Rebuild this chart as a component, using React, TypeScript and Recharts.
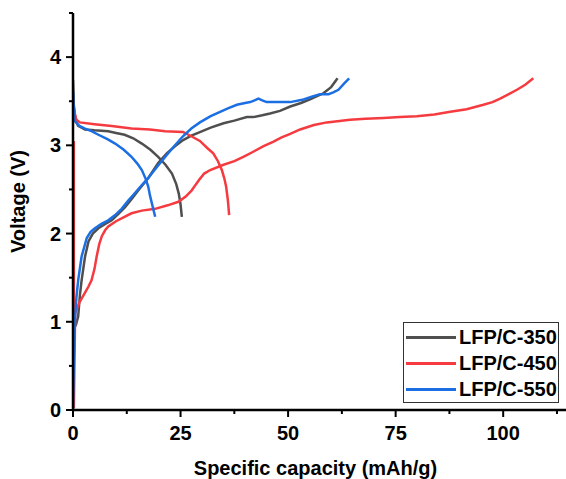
import React from 'react';
import { LineChart, Line, XAxis, YAxis } from 'recharts';

// capacity (mAh/g), voltage (V)
const c350Discharge = [
  [0, 3.74], [0.2, 3.45], [0.6, 3.28], [1.2, 3.22], [2.8, 3.18], [5, 3.17], [8.2, 3.16], [10, 3.14],
  [12, 3.12], [14, 3.08], [16, 3.02], [18, 2.95], [19.8, 2.87], [21.5, 2.78], [23, 2.68],
  [24, 2.56], [24.6, 2.45], [25, 2.33], [25.3, 2.19],
];
const c350Charge = [
  [0.6, 0.95], [1.2, 1.06], [1.6, 1.3], [2, 1.47], [2.8, 1.74], [3.6, 1.91], [4.6, 2.0], [5.9, 2.06],
  [7.5, 2.11], [9, 2.15], [10.5, 2.22], [12.1, 2.3], [13.6, 2.39], [15.2, 2.49], [17.5, 2.63],
  [19.8, 2.8], [21.8, 2.91], [23.7, 2.99], [25.6, 3.06], [27.5, 3.11], [29.5, 3.15], [32, 3.2],
  [35, 3.25], [37.5, 3.28], [40.4, 3.32], [41.9, 3.32], [44, 3.34], [45.8, 3.36], [48.1, 3.39],
  [50.5, 3.44], [53, 3.48], [55.1, 3.52], [58.2, 3.59], [60, 3.66], [61.5, 3.76],
];
const c450Discharge = [
  [0, 3.55], [0.3, 3.38], [0.8, 3.29], [1.6, 3.26], [5, 3.24], [9, 3.22], [13.6, 3.19], [17.9, 3.18],
  [21.4, 3.16], [25.6, 3.15], [27.6, 3.1], [29.5, 3.05], [31.2, 2.97], [32.6, 2.91], [33.7, 2.82],
  [34.6, 2.72], [35.2, 2.62], [35.6, 2.53], [36, 2.38], [36.3, 2.21],
];
const c450Charge = [
  [0.2, 3.05], [0.2, 0.02], [0.5, 1.1], [1.5, 1.22], [2.8, 1.33], [3.6, 1.4], [4.3, 1.47],
  [5, 1.6], [5.5, 1.74], [6.1, 1.88], [6.7, 1.97], [7.5, 2.04], [8.2, 2.08], [10, 2.14], [13.6, 2.23],
  [16, 2.26], [19.1, 2.28], [22, 2.32], [24.5, 2.36], [26.2, 2.42], [27.6, 2.49], [28.6, 2.56],
  [29.5, 2.62], [30.5, 2.68], [31.9, 2.72], [35, 2.78], [37.5, 2.82], [39.6, 2.87], [42, 2.93],
  [44.3, 2.99], [46.5, 3.04], [48.5, 3.09], [50.5, 3.13], [52.8, 3.18], [56, 3.23], [59, 3.26],
  [64.4, 3.29], [68, 3.3], [72.2, 3.31], [76, 3.32], [79.9, 3.33], [84, 3.35], [87.7, 3.38],
  [91.5, 3.41], [95.4, 3.46], [97.5, 3.49], [99.3, 3.53], [101.3, 3.58], [103.2, 3.63],
  [105.2, 3.69], [107, 3.76],
];
const c550Discharge = [
  [0, 3.61], [0.2, 3.4], [0.5, 3.27], [1.5, 3.22], [2.8, 3.19], [4.3, 3.16], [5.9, 3.12], [8, 3.07],
  [9.8, 3.02], [11.8, 2.95], [13.6, 2.87], [15, 2.79], [16, 2.72], [16.9, 2.62], [17.5, 2.53],
  [17.9, 2.43], [18.5, 2.31], [19.1, 2.19],
];
const c550Charge = [
  [0, 0.02], [0.2, 0.6], [0.5, 1.06], [0.8, 1.28], [1.2, 1.47], [2, 1.74], [3.2, 1.95], [4.1, 2.02],
  [5.1, 2.06], [6.6, 2.11], [8.2, 2.15], [9.8, 2.21], [11.3, 2.28], [12.8, 2.37], [14.4, 2.46],
  [16, 2.55], [17.5, 2.63], [19.6, 2.76], [21.6, 2.88], [23.5, 2.99], [25.5, 3.1], [27.5, 3.19],
  [29.5, 3.26], [32, 3.33], [34.2, 3.38], [36, 3.42], [38.1, 3.46], [40, 3.48], [41.2, 3.49],
  [42.2, 3.51], [43.1, 3.53], [44, 3.51], [45, 3.49], [48.1, 3.49], [50.5, 3.49], [53.6, 3.52],
  [55.5, 3.55], [57.4, 3.58], [59.4, 3.58], [60.5, 3.6], [61.7, 3.63], [63, 3.7], [64.2, 3.76],
];

const seriesNames = ['LFP/C-350', 'LFP/C-450', 'LFP/C-550'];
const seriesColors = ['#4f4f4f', '#f53b3f', '#1c6fe3'];
const seriesCurves = [
  [c350Discharge, c350Charge],
  [c450Discharge, c450Charge],
  [c550Discharge, c550Charge],
];

// every 12.5 / 0.5 a tick, labels only on the majors
const xTicks = [0, 12.5, 25, 37.5, 50, 62.5, 75, 87.5, 100, 112.5];
const yTicks = [0, 0.5, 1, 1.5, 2, 2.5, 3, 3.5, 4, 4.5];
const xDomain = [0, 114.6];
const yDomain = [0, 4.5];

const font = '"Liberation Sans", Arial, sans-serif';
const tickLine = { stroke: '#000', strokeWidth: 2 };

const toPoints = (arr: number[][]) => arr.map(([c, v]) => ({ c, v }));

// built-in tick line is the short (minor) one, majors get 3px more
const YTick = (props: any) => {
  const { x, y, payload } = props;
  if (!Number.isInteger(payload.value)) return <g />;
  return (
    <g>
      <line x1={x} x2={x - 3} y1={y} y2={y} stroke="#000" strokeWidth={2} />
      <text x={x - 8} y={y} textAnchor="end" dominantBaseline="central"
        fontFamily={font} fontWeight="bold" fontSize={20} fill="#000">
        {payload.value}
      </text>
    </g>
  );
};

const XTick = (props: any) => {
  const { x, y, payload } = props;
  if (payload.value % 25 !== 0) return <g />;
  return (
    <g>
      <line x1={x} x2={x} y1={y} y2={y + 3} stroke="#000" strokeWidth={2} />
      <text x={x} y={y + 19} textAnchor="middle" dominantBaseline="central"
        fontFamily={font} fontWeight="bold" fontSize={20} fill="#000">
        {payload.value}
      </text>
    </g>
  );
};

const YLabel = (props: any) => {
  const { viewBox } = props;
  const cx = viewBox.x + 18;
  const cy = viewBox.y + viewBox.height / 2 - 10;
  return (
    <text x={cx} y={cy} transform={`rotate(-90 ${cx} ${cy})`} textAnchor="middle" dominantBaseline="central"
      fontFamily={font} fontWeight="bold" fontSize={20} fill="#000">
      Voltage (V)
    </text>
  );
};

const XLabel = (props: any) => {
  const { viewBox } = props;
  const cx = viewBox.x + viewBox.width / 2 - 4;
  const cy = viewBox.y + 58;
  return (
    <text x={cx} y={cy} textAnchor="middle" dominantBaseline="central"
      fontFamily={font} fontWeight="bold" fontSize={20} fill="#000">
      Specific capacity (mAh/g)
    </text>
  );
};

const App: React.FC = () => {
  return (
    <div style={{ position: 'absolute', left: 0, top: 0, width: 566, height: 479, background: '#fff' }}>
      <LineChart width={566} height={479} margin={{ top: 13, right: 0, bottom: 0, left: 0 }}>
        <XAxis
          xAxisId="top"
          orientation="top"
          type="number"
          domain={xDomain}
          height={0}
          tick={false}
          tickLine={false}
          axisLine={{ stroke: '#000', strokeWidth: 1.5 }}
        />
        <XAxis
          type="number"
          dataKey="c"
          domain={xDomain}
          ticks={xTicks}
          interval={0}
          allowDataOverflow
          height={69}
          tickSize={4}
          tickMargin={0}
          tickLine={tickLine}
          tick={<XTick />}
          axisLine={{ stroke: '#000', strokeWidth: 2.5 }}
          label={<XLabel />}
        />
        <YAxis
          type="number"
          dataKey="v"
          domain={yDomain}
          ticks={yTicks}
          interval={0}
          allowDataOverflow
          width={73}
          tickSize={4}
          tickMargin={0}
          tickLine={tickLine}
          tick={<YTick />}
          axisLine={{ stroke: '#000', strokeWidth: 2.5 }}
          label={<YLabel />}
        />
        {seriesCurves.map((curves, i) =>
          curves.map((curve, j) => (
            <Line
              key={`${i}-${j}`}
              data={toPoints(curve)}
              dataKey="v"
              type="linear"
              stroke={seriesColors[i]}
              strokeWidth={2.5}
              dot={false}
              isAnimationActive={false}
            />
          ))
        )}
      </LineChart>
      <div
        style={{
          position: 'absolute', left: 403, top: 322, width: 154, height: 79,
          border: '1px solid #333', background: '#fff', fontFamily: font,
        }}
      >
        {seriesNames.map((name, i) => (
          <div key={name} style={{ display: 'flex', alignItems: 'center', height: 26, marginTop: i === 0 ? 1 : 0 }}>
            <div style={{ width: 50, height: 3, background: seriesColors[i], marginLeft: 2, marginRight: 3 }} />
            <span style={{ fontWeight: 'bold', fontSize: 20, color: '#000', whiteSpace: 'nowrap' }}>{name}</span>
          </div>
        ))}
      </div>
    </div>
  );
};

export default App;
